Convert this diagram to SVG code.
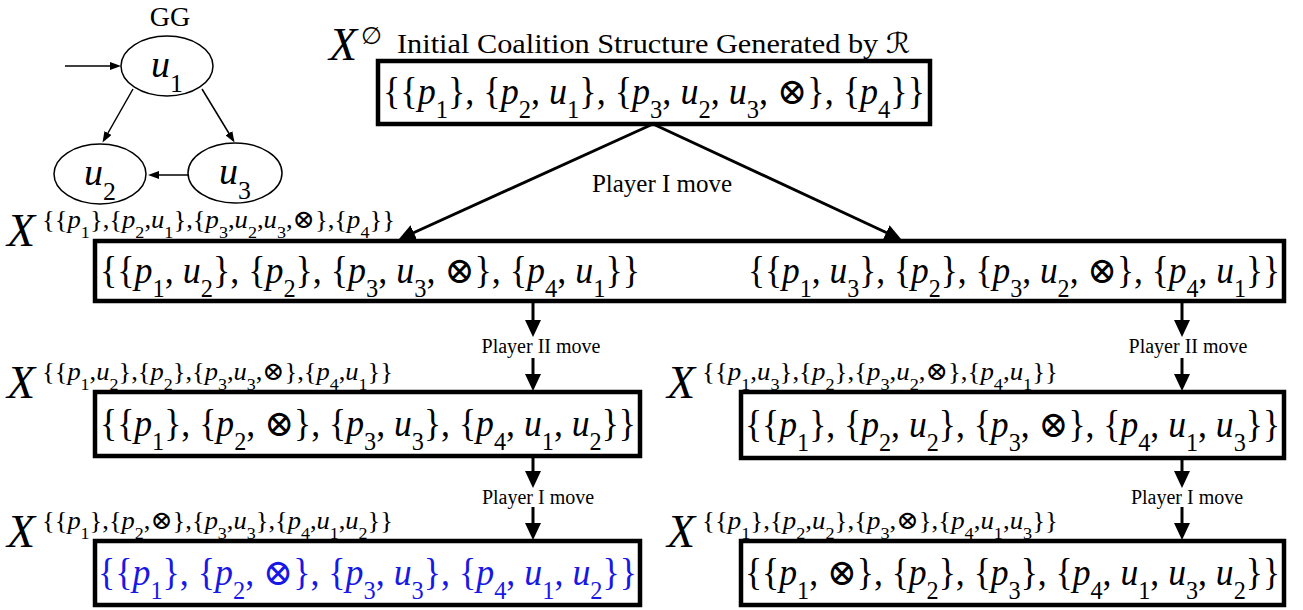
<svg xmlns="http://www.w3.org/2000/svg" width="1303" height="610" viewBox="0 0 1303 610">
  <style>
    .t { font-family: "Liberation Serif", "DejaVu Serif", "DejaVu Sans", serif; fill: #000; }
    .i { font-style: italic; }
    .b { font-size: 68%; baseline-shift: sub; }
    .bx { font-size: 37px; }
    .sup { font-size: 26px; }
    .xl { font-size: 46px; font-style: italic; }
    .lbl { font-size: 20px; }
    .blue { fill: #1818e6; }
    .box { fill: #fff; stroke: #000; stroke-width: 4.5; }
    .ell { fill: #fff; stroke: #000; stroke-width: 1.5; }
    .thin { stroke: #000; stroke-width: 1.5; fill: none; marker-end: url(#ah-s); }
    .thick { stroke: #000; stroke-width: 3; fill: none; marker-end: url(#ah-l); }
  </style>
  <defs>
    <marker id="ah-l" markerUnits="userSpaceOnUse" markerWidth="17" markerHeight="16" refX="13" refY="8" orient="auto">
      <path d="M0,0 L17,8 L0,16 z" fill="#000"/>
    </marker>
    <marker id="ah-s" markerUnits="userSpaceOnUse" markerWidth="11" markerHeight="8" refX="8" refY="4" orient="auto">
      <path d="M0,0 L11,4 L0,8 z" fill="#000"/>
    </marker>
  </defs>
  <rect width="1303" height="610" fill="#fff"/>

  <!-- game graph GG -->
  <g id="gg">
    <text class="t" x="170" y="26" font-size="28" text-anchor="middle">GG</text>
    <g id="gg-u1">
      <ellipse class="ell" cx="167" cy="66" rx="46" ry="30"/>
      <text class="t" x="167" y="77" font-size="38" text-anchor="middle"><tspan class="i">u</tspan><tspan class="b">1</tspan></text>
    </g>
    <g id="gg-u2">
      <ellipse class="ell" cx="100" cy="174" rx="46" ry="30"/>
      <text class="t" x="100" y="185" font-size="38" text-anchor="middle"><tspan class="i">u</tspan><tspan class="b">2</tspan></text>
    </g>
    <g id="gg-u3">
      <ellipse class="ell" cx="235" cy="173" rx="47" ry="30"/>
      <text class="t" x="235" y="184" font-size="38" text-anchor="middle"><tspan class="i">u</tspan><tspan class="b">3</tspan></text>
    </g>
    <g id="gg-edges">
      <line class="thin" x1="65" y1="66" x2="118" y2="66"/>
      <line class="thin" x1="133" y1="89" x2="104" y2="140"/>
      <line class="thin" x1="202" y1="89" x2="233" y2="140"/>
      <line class="thin" x1="188" y1="175" x2="151" y2="175"/>
    </g>
  </g>

  <!-- connectors of the game tree -->
  <g id="connectors">
    <line class="thick" x1="653" y1="124" x2="402" y2="238"/>
    <line class="thick" x1="653" y1="124" x2="898" y2="238"/>
    <line class="thick" x1="533" y1="302" x2="533" y2="333"/>
    <line class="thick" x1="533" y1="358" x2="533" y2="387"/>
    <line class="thick" x1="533" y1="456" x2="533" y2="484"/>
    <line class="thick" x1="533" y1="507" x2="533" y2="536"/>
    <line class="thick" x1="1182" y1="302" x2="1182" y2="333"/>
    <line class="thick" x1="1182" y1="358" x2="1182" y2="387"/>
    <line class="thick" x1="1182" y1="459" x2="1182" y2="484"/>
    <line class="thick" x1="1182" y1="507" x2="1182" y2="536"/>
    <text class="t" x="662" y="192" font-size="25" text-anchor="middle">Player I move</text>
    <text class="t lbl" x="541" y="353" text-anchor="middle">Player II move</text>
    <text class="t lbl" x="1188" y="353" text-anchor="middle">Player II move</text>
    <text class="t lbl" x="538" y="504" text-anchor="middle">Player I move</text>
    <text class="t lbl" x="1187" y="504" text-anchor="middle">Player I move</text>
  </g>

  <!-- root: initial coalition structure -->
  <g id="root">
    <text class="t xl" x="329" y="60">X</text>
    <text class="t" x="361" y="44" font-size="24">∅</text>
    <text class="t" x="397" y="53" font-size="28" textLength="513" lengthAdjust="spacingAndGlyphs">Initial Coalition Structure Generated by <tspan class="i">ℛ</tspan></text>
    <rect class="box" x="378" y="61" width="552" height="63"/>
    <text class="t bx" x="383" y="104" textLength="542" lengthAdjust="spacingAndGlyphs">{{<tspan class="i">p</tspan><tspan class="b">1</tspan>}, {<tspan class="i">p</tspan><tspan class="b">2</tspan>, <tspan class="i">u</tspan><tspan class="b">1</tspan>}, {<tspan class="i">p</tspan><tspan class="b">3</tspan>, <tspan class="i">u</tspan><tspan class="b">2</tspan>, <tspan class="i">u</tspan><tspan class="b">3</tspan>, ⊗}, {<tspan class="i">p</tspan><tspan class="b">4</tspan>}}</text>
  </g>

  <!-- level 1: two choices of Player I -->
  <g id="level1">
    <text class="t xl" x="7" y="246">X</text>
    <text class="t sup" x="42" y="228" textLength="353" lengthAdjust="spacingAndGlyphs">{{<tspan class="i">p</tspan><tspan class="b">1</tspan>},{<tspan class="i">p</tspan><tspan class="b">2</tspan>,<tspan class="i">u</tspan><tspan class="b">1</tspan>},{<tspan class="i">p</tspan><tspan class="b">3</tspan>,<tspan class="i">u</tspan><tspan class="b">2</tspan>,<tspan class="i">u</tspan><tspan class="b">3</tspan>,⊗},{<tspan class="i">p</tspan><tspan class="b">4</tspan>}}</text>
    <rect class="box" x="95" y="241" width="1189" height="60"/>
    <text class="t bx" x="100" y="283" textLength="540" lengthAdjust="spacingAndGlyphs">{{<tspan class="i">p</tspan><tspan class="b">1</tspan>, <tspan class="i">u</tspan><tspan class="b">2</tspan>}, {<tspan class="i">p</tspan><tspan class="b">2</tspan>}, {<tspan class="i">p</tspan><tspan class="b">3</tspan>, <tspan class="i">u</tspan><tspan class="b">3</tspan>, ⊗}, {<tspan class="i">p</tspan><tspan class="b">4</tspan>, <tspan class="i">u</tspan><tspan class="b">1</tspan>}}</text>
    <text class="t bx" x="748" y="283" textLength="532" lengthAdjust="spacingAndGlyphs">{{<tspan class="i">p</tspan><tspan class="b">1</tspan>, <tspan class="i">u</tspan><tspan class="b">3</tspan>}, {<tspan class="i">p</tspan><tspan class="b">2</tspan>}, {<tspan class="i">p</tspan><tspan class="b">3</tspan>, <tspan class="i">u</tspan><tspan class="b">2</tspan>, ⊗}, {<tspan class="i">p</tspan><tspan class="b">4</tspan>, <tspan class="i">u</tspan><tspan class="b">1</tspan>}}</text>
  </g>

  <!-- level 2 left: Player II reply -->
  <g id="level2-left">
    <text class="t xl" x="7" y="398">X</text>
    <text class="t sup" x="42" y="380" textLength="351" lengthAdjust="spacingAndGlyphs">{{<tspan class="i">p</tspan><tspan class="b">1</tspan>,<tspan class="i">u</tspan><tspan class="b">2</tspan>},{<tspan class="i">p</tspan><tspan class="b">2</tspan>},{<tspan class="i">p</tspan><tspan class="b">3</tspan>,<tspan class="i">u</tspan><tspan class="b">3</tspan>,⊗},{<tspan class="i">p</tspan><tspan class="b">4</tspan>,<tspan class="i">u</tspan><tspan class="b">1</tspan>}}</text>
    <rect class="box" x="95" y="392" width="545" height="64"/>
    <text class="t bx" x="100" y="436" textLength="536" lengthAdjust="spacingAndGlyphs">{{<tspan class="i">p</tspan><tspan class="b">1</tspan>}, {<tspan class="i">p</tspan><tspan class="b">2</tspan>, ⊗}, {<tspan class="i">p</tspan><tspan class="b">3</tspan>, <tspan class="i">u</tspan><tspan class="b">3</tspan>}, {<tspan class="i">p</tspan><tspan class="b">4</tspan>, <tspan class="i">u</tspan><tspan class="b">1</tspan>, <tspan class="i">u</tspan><tspan class="b">2</tspan>}}</text>
  </g>

  <!-- level 2 right: Player II reply -->
  <g id="level2-right">
    <text class="t xl" x="667" y="398">X</text>
    <text class="t sup" x="702" y="380" textLength="356" lengthAdjust="spacingAndGlyphs">{{<tspan class="i">p</tspan><tspan class="b">1</tspan>,<tspan class="i">u</tspan><tspan class="b">3</tspan>},{<tspan class="i">p</tspan><tspan class="b">2</tspan>},{<tspan class="i">p</tspan><tspan class="b">3</tspan>,<tspan class="i">u</tspan><tspan class="b">2</tspan>,⊗},{<tspan class="i">p</tspan><tspan class="b">4</tspan>,<tspan class="i">u</tspan><tspan class="b">1</tspan>}}</text>
    <rect class="box" x="741" y="392" width="543" height="66"/>
    <text class="t bx" x="745" y="437" textLength="535" lengthAdjust="spacingAndGlyphs">{{<tspan class="i">p</tspan><tspan class="b">1</tspan>}, {<tspan class="i">p</tspan><tspan class="b">2</tspan>, <tspan class="i">u</tspan><tspan class="b">2</tspan>}, {<tspan class="i">p</tspan><tspan class="b">3</tspan>, ⊗}, {<tspan class="i">p</tspan><tspan class="b">4</tspan>, <tspan class="i">u</tspan><tspan class="b">1</tspan>, <tspan class="i">u</tspan><tspan class="b">3</tspan>}}</text>
  </g>

  <!-- level 3 left: Player I final structure (highlighted) -->
  <g id="level3-left">
    <text class="t xl" x="7" y="547">X</text>
    <text class="t sup" x="42" y="529" textLength="351" lengthAdjust="spacingAndGlyphs">{{<tspan class="i">p</tspan><tspan class="b">1</tspan>},{<tspan class="i">p</tspan><tspan class="b">2</tspan>,⊗},{<tspan class="i">p</tspan><tspan class="b">3</tspan>,<tspan class="i">u</tspan><tspan class="b">3</tspan>},{<tspan class="i">p</tspan><tspan class="b">4</tspan>,<tspan class="i">u</tspan><tspan class="b">1</tspan>,<tspan class="i">u</tspan><tspan class="b">2</tspan>}}</text>
    <rect class="box" x="95" y="541" width="545" height="64"/>
    <text class="t bx blue" x="98" y="585" textLength="539" lengthAdjust="spacingAndGlyphs">{{<tspan class="i">p</tspan><tspan class="b">1</tspan>}, {<tspan class="i">p</tspan><tspan class="b">2</tspan>, ⊗}, {<tspan class="i">p</tspan><tspan class="b">3</tspan>, <tspan class="i">u</tspan><tspan class="b">3</tspan>}, {<tspan class="i">p</tspan><tspan class="b">4</tspan>, <tspan class="i">u</tspan><tspan class="b">1</tspan>, <tspan class="i">u</tspan><tspan class="b">2</tspan>}}</text>
  </g>

  <!-- level 3 right: Player I final structure -->
  <g id="level3-right">
    <text class="t xl" x="667" y="547">X</text>
    <text class="t sup" x="702" y="529" textLength="356" lengthAdjust="spacingAndGlyphs">{{<tspan class="i">p</tspan><tspan class="b">1</tspan>},{<tspan class="i">p</tspan><tspan class="b">2</tspan>,<tspan class="i">u</tspan><tspan class="b">2</tspan>},{<tspan class="i">p</tspan><tspan class="b">3</tspan>,⊗},{<tspan class="i">p</tspan><tspan class="b">4</tspan>,<tspan class="i">u</tspan><tspan class="b">1</tspan>,<tspan class="i">u</tspan><tspan class="b">3</tspan>}}</text>
    <rect class="box" x="741" y="541" width="543" height="64"/>
    <text class="t bx" x="745" y="585" textLength="535" lengthAdjust="spacingAndGlyphs">{{<tspan class="i">p</tspan><tspan class="b">1</tspan>, ⊗}, {<tspan class="i">p</tspan><tspan class="b">2</tspan>}, {<tspan class="i">p</tspan><tspan class="b">3</tspan>}, {<tspan class="i">p</tspan><tspan class="b">4</tspan>, <tspan class="i">u</tspan><tspan class="b">1</tspan>, <tspan class="i">u</tspan><tspan class="b">3</tspan>, <tspan class="i">u</tspan><tspan class="b">2</tspan>}}</text>
  </g>
</svg>
